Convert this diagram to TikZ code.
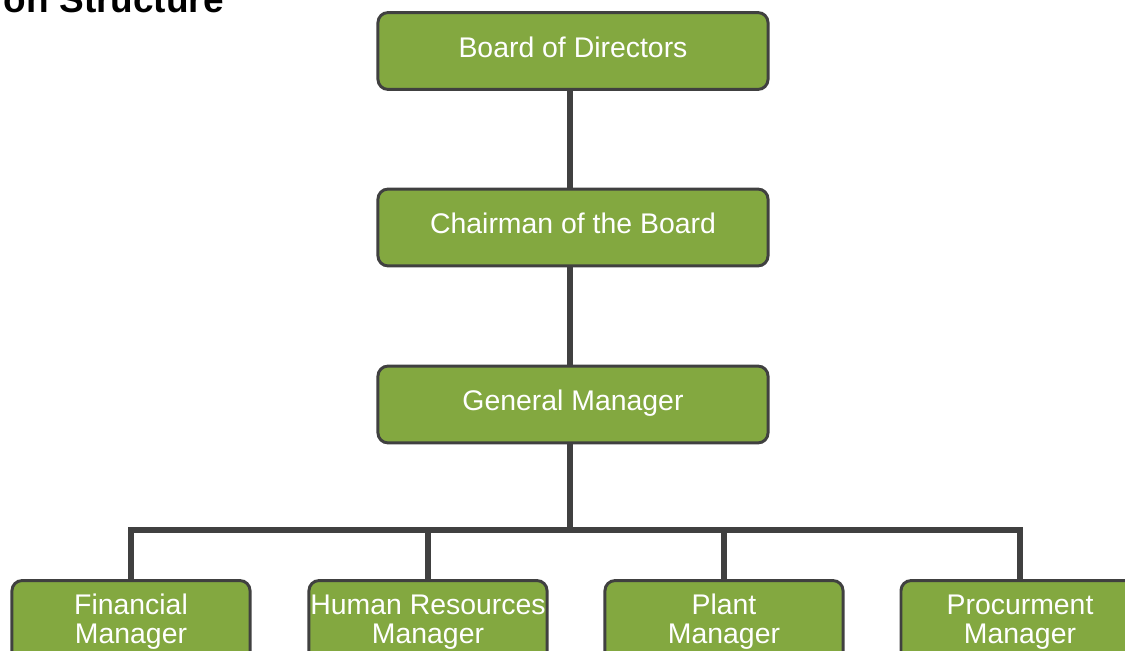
\documentclass[tikz,border=0pt]{standalone}
\usepackage{fontspec}
\setmainfont{Liberation Sans}
\usetikzlibrary{positioning,backgrounds,calc}
\definecolor{boxgreen}{HTML}{83A840}
\definecolor{boxline}{HTML}{404040}

\begin{document}
\begin{tikzpicture}[x=0.025cm, y=-0.025cm,
 box/.style={draw=boxline, line width=2.1pt, fill=boxgreen, rounded corners=2.5mm,
  text=white, font=\fontsize{20.2pt}{21.3pt}\selectfont, align=center, inner sep=0pt},
 topbox/.style={box, minimum width=9.75cm, minimum height=1.92cm, text height=9pt, text depth=0pt},
 lowbox/.style={box, minimum width=5.95cm, minimum height=2.42cm, text height=34.4pt, text depth=13.1pt},
 link/.style={draw=boxline, line width=4.2pt}]
 \useasboundingbox (0,0) rectangle (1125,651);
 \node[anchor=base west, font=\bfseries\fontsize{26.3pt}{28pt}\selectfont] (title) at (-1,12) {on Structure};
 \node[topbox] (bod) at (573,51) {Board of Directors};
 \node[topbox] (chair) at (573,227.5) {Chairman of the Board};
 \node[topbox] (gm) at (573,404.5) {General Manager};
 \node[lowbox] (fin) at (131,629) {Financial\\Manager};
 \node[lowbox] (hr) at (428,629) {Human Resources\\Manager};
 \node[lowbox] (plant) at (724,629) {Plant\\Manager};
 \node[lowbox] (proc) at (1020,629) {Procurment\\Manager};
 \coordinate (bus) at (570,530);
 % connectors behind the boxes
 \begin{scope}[on background layer]
 \path[link] (bod.south -| 570,0) -- (chair.north -| 570,0);
 \path[link] (chair.south -| 570,0) -- (gm.north -| 570,0);
 \path[link] (gm.south -| 570,0) -- (bus);
 \foreach \n in {fin,hr,plant,proc}
  \path[link] (bus) -| (\n.north);
 \end{scope}
\end{tikzpicture}
\end{document}
